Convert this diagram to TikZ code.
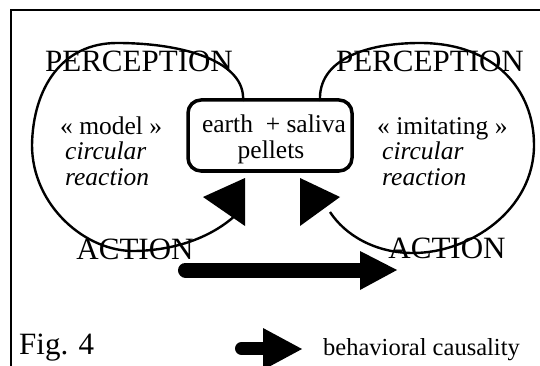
\documentclass[tikz,border=0pt]{standalone}
\usepackage{fontspec}
\setmainfont{Liberation Serif}
\begin{document}
\begin{tikzpicture}[x=1pt,y=-1pt,
  loopline/.style={line width=2.4pt},
  bigtxt/.style={font=\fontsize{31}{34}\selectfont, inner sep=0pt, anchor=base},
  midtxt/.style={font=\fontsize{25.5}{28}\selectfont, inner sep=0pt, anchor=base},
  leftxt/.style={font=\fontsize{25.5}{28}\selectfont, inner sep=0pt, anchor=base west},
  pelletbox/.style={draw, line width=3.5pt, rounded corners=13pt, inner sep=0pt},
  head/.style={fill=black},
  shaft/.style={line cap=round}]
\useasboundingbox (0,0) rectangle (540,366);
% frame
\draw[line width=1.5pt] (11,372) -- (11,10) -- (545,10);
% box
\node[pelletbox, minimum width=164pt, minimum height=71pt] (box) at (270,135.5) {};
\node[midtxt] (t1) at (274,133) {earth\ \ + saliva};
\node[midtxt] (t2) at (271,158.5) {pellets};
% labels
\node[bigtxt] (pl) at (139,72) {PERCEPTION};
\node[bigtxt] (pr) at (430,72) {PERCEPTION};
\node[bigtxt] (al) at (135,259) {ACTION};
\node[bigtxt] (ar) at (447,258) {ACTION};
\node[leftxt] (m1) at (60,135) {« model »};
\node[leftxt] (m2) at (65,160) {\itshape circular};
\node[leftxt] (m3) at (65,185) {\itshape reaction};
\node[leftxt] (i1) at (377,135) {« imitating »};
\node[leftxt] (i2) at (382,160) {\itshape circular};
\node[leftxt] (i3) at (382,185) {\itshape reaction};
% loops
\coordinate (ls) at (243,101);
\coordinate (le) at (238,213);
\coordinate (rs) at (320,101);
\coordinate (re) at (330,212);
\draw[loopline] (ls) .. controls (246,62) and (185,43) .. (117,43)
  .. controls (62,43) and (33,88) .. (32,145)
  .. controls (32,205) and (85,252) .. (135,251)
  .. controls (180,250) and (215,235) .. (le);
\draw[loopline] (rs) .. controls (318,60) and (365,43) .. (420,43)
  .. controls (495,43) and (534,90) .. (534,145)
  .. controls (534,210) and (470,253) .. (413,253)
  .. controls (375,253) and (345,235) .. (re);
% arrowheads at box
\fill[head] (203,197) -- (245,178) -- (245,226) -- cycle;
\fill[head] (340,197) -- (300,178) -- (300,226) -- cycle;
% big causality arrow
\coordinate (b1) at (185.5,270);
\coordinate (b2) at (362,270);
\draw[shaft, line width=15pt] (b1) -- (b2);
\fill[head] (360,251) -- (397,270) -- (360,290) -- cycle;
% legend
\node[font=\fontsize{31}{34}\selectfont, inner sep=0pt, anchor=base west] (fig) at (19,354) {Fig. 4};
\coordinate (g1) at (241.5,348.5);
\coordinate (g2) at (264,348.5);
\draw[shaft, line width=13pt] (g1) -- (g2);
\fill[head] (263,328) -- (302,349) -- (263,370) -- cycle;
\node[font=\fontsize{24.5}{27}\selectfont, inner sep=0pt, anchor=base west] (leg) at (323,355) {behavioral causality};
\end{tikzpicture}
\end{document}
